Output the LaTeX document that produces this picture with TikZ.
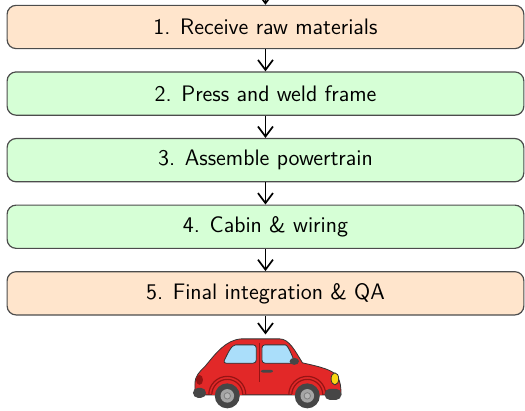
\documentclass[tikz,border=0pt]{standalone}
\usepackage{tikz}
\usetikzlibrary{arrows.meta}
\definecolor{stageorange}{RGB}{255,229,204}
\definecolor{stagegreen}{RGB}{214,255,214}
\definecolor{carred}{RGB}{226,40,40}
\definecolor{archred}{RGB}{150,20,20}
\definecolor{glass}{RGB}{170,222,250}
\definecolor{tyregray}{RGB}{70,70,70}
\definecolor{rimgray}{RGB}{165,165,165}
\definecolor{lampyellow}{RGB}{250,215,20}

\begin{document}
\begin{tikzpicture}[font=\sffamily\fontsize{11.2pt}{13pt}\selectfont,
    stage/.style={draw=black!70,line width=0.6pt,rounded corners=4.5pt,
        minimum width=9.08cm,minimum height=0.76cm},
    flow/.style={-{Straight Barb[length=5pt,width=7.5pt]},line width=0.85pt},
    carline/.style={draw=black!80,line width=0.4pt}]
\useasboundingbox (-4.665,-6.747) rectangle (4.56,0.474);

\node[stage,fill=stageorange] (s1) at (0,0) {1. Receive raw materials};
\node[stage,fill=stagegreen] (s2) at (0,-1.17) {2. Press and weld frame};
\node[stage,fill=stagegreen] (s3) at (0,-2.34) {3. Assemble powertrain};
\node[stage,fill=stagegreen] (s4) at (0,-3.51) {4. Cabin \& wiring};
\node[stage,fill=stageorange] (s5) at (0,-4.68) {5. Final integration \& QA};
\node[minimum width=2.64cm,minimum height=1.3cm,inner sep=0pt] (car) at (0,-6.06) {};
\coordinate (feed) at (0,1.2);

\draw[flow] (feed) -- (s1);
\draw[flow] (s1) -- (s2);
\draw[flow] (s2) -- (s3);
\draw[flow] (s3) -- (s4);
\draw[flow] (s4) -- (s5);
\draw[flow] (s5) -- (car);

% the finished car
\begin{scope}[shift={(car.center)},x=0.5pt,y=0.5pt]
    \draw[carline,fill=carred] (-70.5,-23) -- (-70.5,-12)
        .. controls (-70.5,-4) and (-66,0) .. (-60,6)
        .. controls (-50,18) and (-40,32) .. (-24,33) -- (14,33)
        .. controls (24,33) and (30,20) .. (37,9)
        .. controls (55,5) and (68,2) .. (72,-5)
        .. controls (75,-10) and (75.5,-15) .. (75.5,-23) -- cycle;
    \draw[carline,fill=glass,rounded corners=1.5pt] (-42.5,8.7)
        .. controls (-38,18) and (-34,27) .. (-27,27) -- (-9.2,27) -- (-9.2,8.7) -- cycle;
    \draw[carline,fill=glass,rounded corners=1.5pt] (-3.5,8.7) -- (-3.5,27) -- (17,27)
        .. controls (22,27) and (26,18) .. (29.5,8.7) -- cycle;
    \draw[archred,line width=0.4pt] (-6.4,29) -- (-6.4,-10);
    \fill[tyregray] (28.8,10.5) ellipse (4.7 and 3.5);
    \fill[tyregray,rounded corners=1pt] (-4.5,-0.7) rectangle (7.5,2);
    \fill[archred] (-66,-8) ellipse (3.5 and 5);
    \draw[carline,fill=lampyellow] (69.4,-7) ellipse (3.8 and 6);
    \foreach \wx in {-38.2,41.8} {
        \draw[archred,line width=0.6pt] (\wx,-23) ++(180:18.5) arc (180:0:18.5);
        \draw[archred,line width=0.6pt] (\wx,-23) ++(180:15.5) arc (180:0:15.5);
        \fill[carred] (\wx-15,-23.4) rectangle (\wx+15,-22.4);
        \fill[tyregray] (\wx,-24) circle (12.5);
        \fill[rimgray] (\wx,-24) circle (6.8);
        \draw[black!50,fill=rimgray!80] (\wx,-24) circle (3.2);
    }
    \fill[tyregray,rounded corners=2.5pt] (-72.5,-16) rectangle (-59.5,-26);
    \fill[tyregray,rounded corners=2.5pt] (59.2,-17) rectangle (75.8,-28);
\end{scope}
\end{tikzpicture}
\end{document}
